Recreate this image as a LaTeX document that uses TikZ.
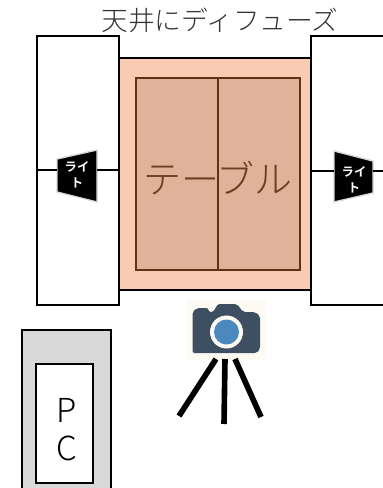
\documentclass[tikz,border=0pt]{standalone}
\usepackage{fontspec}
\newfontfamily\jpfont{Noto Sans CJK JP Light}
\definecolor{tablepale}{HTML}{F8CBB2}
\definecolor{tableboard}{HTML}{DFB29A}
\definecolor{tableedge}{HTML}{5F3318}
\definecolor{tabletext}{HTML}{6E3D20}
\definecolor{cambg}{HTML}{FDF9F3}
\definecolor{cambody}{HTML}{3D4F60}
\definecolor{camlens}{HTML}{4A88BE}
\tikzset{
	panelbox/.style={draw=black, line width=0.7pt, fill=white, rectangle, inner sep=0pt},
	lightbody/.style={fill=black, draw=black!15, line width=0.4pt, line join=miter},
	lighttext/.style={text=white, font=\jpfont\fontsize{3.5}{4.6}\selectfont\bfseries, align=center, inner sep=0pt},
	wire/.style={draw=black, line width=0.55pt},
	leg/.style={draw=black, line width=1.6pt},
}

\begin{document}
\begin{tikzpicture}[x=0.01cm,y=-0.01cm,font=\jpfont]
	  \useasboundingbox (1,1) rectangle (384,489);
	  \clip (1,1) rectangle (384,489);
	  \node[panelbox, anchor=north west, minimum width=82*0.01cm, minimum height=269*0.01cm] (panelL) at (37,36) {};
	  \node[panelbox, anchor=north west, minimum width=90*0.01cm, minimum height=269*0.01cm] (panelR) at (311,36) {};
	  \node[draw=black, line width=0.6pt, fill=tablepale, anchor=north west, minimum width=192*0.01cm, minimum height=232*0.01cm, inner sep=0pt] (tablebase) at (119,58) {};
	  \node[draw=tableedge, line width=0.55pt, fill=tableboard, anchor=north west, minimum width=82*0.01cm, minimum height=192*0.01cm, inner sep=0pt] (boardL) at (136,78) {};
	  \node[draw=tableedge, line width=0.55pt, fill=tableboard, anchor=north west, minimum width=82*0.01cm, minimum height=192*0.01cm, inner sep=0pt] (boardR) at (218,78) {};
	  \node[text=tabletext, font=\jpfont\fontsize{10.8}{12}\selectfont, inner sep=0pt] (tablelabel) at (219,179) {テーブル};
	  \node[text=black!80, font=\jpfont\fontsize{7.6}{9}\selectfont, inner sep=0pt] (ceiling) at (221,21) {天井にディフューズ};
	  % lights
	  \coordinate (lightLedgeW) at (58,171);
	  \coordinate (lightLedgeE) at (98,171);
	  \coordinate (lightRedgeW) at (335,172);
	  \coordinate (lightRedgeE) at (374,172);
	  \coordinate (rimR) at (384,172);
	  \draw[lightbody] (58,160)--(98,151)--(98,203)--(58,193)--cycle;
	  \draw[lightbody] (335,152)--(374,162)--(374,194)--(335,203)--cycle;
	  \node[lighttext] (lightL) at (78,176) {ライ\\ト};
	  \node[lighttext] (lightR) at (355,181) {ライ\\ト};
	  \draw[wire] (panelL.west |- lightLedgeW) -- (lightLedgeW);
	  \draw[wire] (lightLedgeE) -- (panelL.east |- lightLedgeE);
	  \draw[wire] (panelR.west |- lightRedgeW) -- (lightRedgeW);
	  \draw[wire] (lightRedgeE) -- (rimR);
	  % camera
	  \node[fill=cambg, anchor=north west, minimum width=80*0.01cm, minimum height=60*0.01cm, inner sep=0pt] (cambox) at (186,300) {};
	  \fill[cambody, rounded corners=0.6pt] (193.5,354)--(193.5,313)--(198,309)--(209,309)--(210,313)--(214,313)--(219,305)--(238,305)--(244,313)--(256,313)--(261,317)--(261,350)--(258,354)--cycle;
	  \fill[cambg] (227.5,333) circle (16.5);
	  \fill[camlens] (227.5,333) circle (12.5);
	  \coordinate (legAfoot) at (180,417);
	  \coordinate (legBfoot) at (225,425);
	  \coordinate (legCfoot) at (262,418);
	  \draw[leg] (217,360) -- (legAfoot);
	  \draw[leg] (226,360) -- (legBfoot);
	  \draw[leg] (236,360) -- (legCfoot);
	  % pc
	  \node[draw=black, line width=0.7pt, fill=black!15, anchor=north west, minimum width=89*0.01cm, minimum height=190*0.01cm, inner sep=0pt] (desk) at (22,330) {};
	  \node[panelbox, anchor=north west, minimum width=57*0.01cm, minimum height=119*0.01cm] (screen) at (36,364) {};
	  \node[font=\jpfont\fontsize{9.4}{10.8}\selectfont, align=center, inner sep=0pt] (pclabel) at (68,431) {P\\C};
\end{tikzpicture}
\end{document}
